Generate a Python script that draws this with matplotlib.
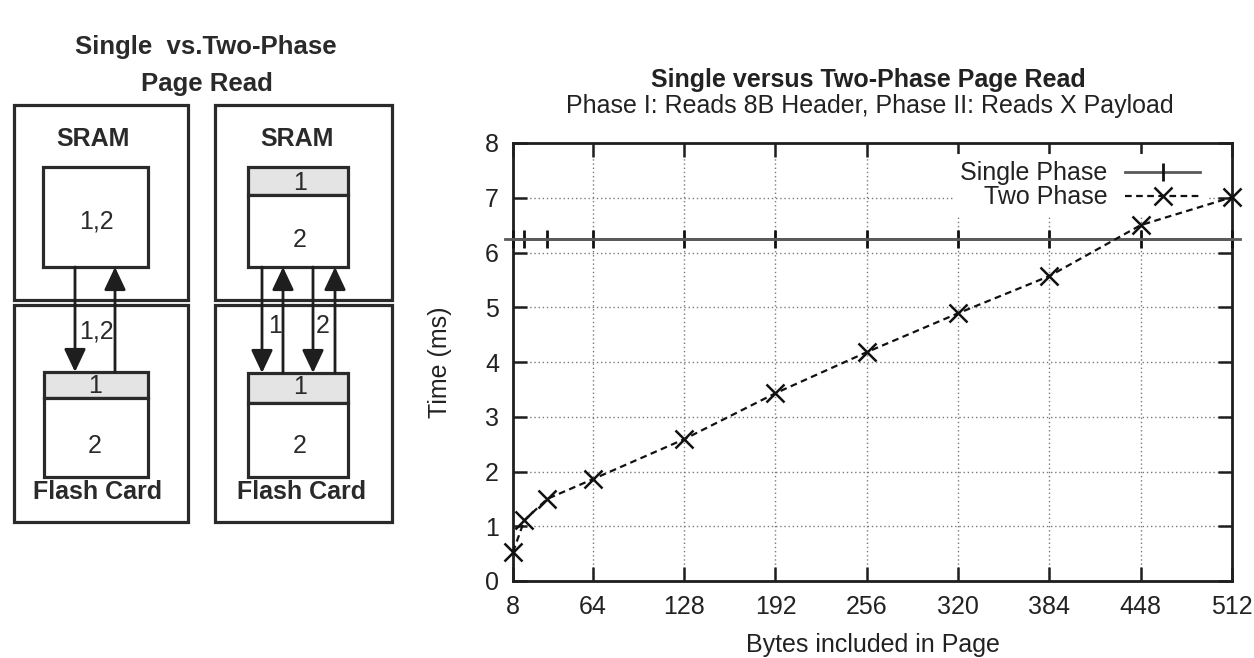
import matplotlib
matplotlib.use('Agg')
import matplotlib.pyplot as plt
from matplotlib.patches import Rectangle

plt.rcParams['font.family'] = ['Liberation Sans', 'DejaVu Sans']

# ---------------- data ----------------
bytes_x = [8, 16, 32, 64, 128, 192, 256, 320, 384, 448, 512]
single_ms = [6.25, 6.25, 6.25, 6.25, 6.25, 6.25, 6.25, 6.25, 6.25, 6.25, 6.25]
two_ms = [0.53, 1.11, 1.50, 1.86, 2.59, 3.43, 4.18, 4.89, 5.57, 6.50, 7.01]
x_ticks = [8, 64, 128, 192, 256, 320, 384, 448, 512]
y_ticks = [0, 1, 2, 3, 4, 5, 6, 7, 8]
series_labels = ['Single Phase', 'Two Phase']
chart_title = 'Single versus Two-Phase Page Read'
chart_subtitle = 'Phase I: Reads 8B Header, Phase II: Reads X Payload'
x_label = 'Bytes included in Page'
y_label = 'Time (ms)'

W, H = 1254, 658
fig = plt.figure(figsize=(W / 100, H / 100), dpi=100)
fig.patch.set_facecolor('white')

# ---------------- diagram (pixel coordinates) ----------------
ad = fig.add_axes([0, 0, 1, 1], zorder=0)
ad.set_xlim(0, W)
ad.set_ylim(H, 0)
ad.axis('off')

edge = '#2a2a2a'
tcol = '#2a2a2a'
blw = 2.3


def rect(x0, y0, x1, y1, fc='none', lw=blw):
    ad.add_patch(Rectangle((x0, y0), x1 - x0, y1 - y0, fc=fc, ec=edge, lw=lw))


def arrow(x, y_from, y_to):
    ad.annotate('', xy=(x, y_to), xytext=(x, y_from),
                arrowprops=dict(arrowstyle='-|>,head_length=0.7,head_width=0.33',
                                lw=2.0, color='#1e1e1e', shrinkA=0, shrinkB=0,
                                mutation_scale=20))


def txt(x, y, s, bold=False, size=18):
    ad.text(x, y, s, ha='center', va='baseline', fontsize=size,
            fontweight='bold' if bold else 'normal', color=tcol)


txt(206, 54, 'Single  vs.Two-Phase', bold=True, size=18.5)
txt(207, 91, 'Page Read', bold=True, size=18.5)

for (x0, x1) in [(14, 188), (215, 392)]:
    rect(x0, 105, x1, 300)
    rect(x0, 305, x1, 522)

txt(93, 146, 'SRAM', bold=True)
txt(297, 146, 'SRAM', bold=True)

# left SRAM block
rect(43, 167, 148, 267, fc='white')
txt(96, 229, '1,2')
# right SRAM block
rect(248, 167, 348, 195, fc='#e4e4e4')
rect(248, 195, 348, 267, fc='white')
txt(300, 190, '1')
txt(300, 247, '2')

# flash blocks
rect(44, 372, 148, 398, fc='#e4e4e4')
rect(44, 398, 148, 477, fc='white')
txt(95, 393, '1')
txt(95, 453, '2')
rect(248, 373, 348, 403, fc='#e4e4e4')
rect(248, 403, 348, 477, fc='white')
txt(300, 394, '1')
txt(300, 453, '2')

txt(98, 499, 'Flash Card', bold=True)
txt(302, 499, 'Flash Card', bold=True)

# arrows
arrow(75, 267, 372)
arrow(115, 372, 267)
arrow(262, 267, 373)
arrow(283, 373, 267)
arrow(313, 267, 373)
arrow(335, 373, 267)
txt(96, 339, '1,2')
txt(275, 333, '1')
txt(323, 333, '2')

# ---------------- chart ----------------
L, R, T, B = 513, 1232, 143, 581
ax = fig.add_axes([L / W, (H - B) / H, (R - L) / W, (B - T) / H], zorder=1)
ax.set_xlim(8, 512)
ax.set_ylim(0, 8)
ax.set_axisbelow(True)
ax.grid(True, color='#7a7a7a', linestyle=(0, (1, 2)), lw=1.0)
for sp in ax.spines.values():
    sp.set_linewidth(2.0)
    sp.set_color('#1e1e1e')
ax.set_xticks(x_ticks)
ax.set_xticklabels([str(v) for v in x_ticks])
ax.set_yticks(y_ticks)
ax.set_yticklabels([str(v) for v in y_ticks])
ax.tick_params(direction='in', length=10, width=1.8, top=True, right=True,
               labelsize=18, pad=10, color='#1e1e1e', labelcolor='#222222')

ax.plot(bytes_x, single_ms, color='#5a5a5a', lw=2.0, marker='|', ms=13,
        mew=2.0, mec='#111111', clip_on=False, label=series_labels[0], zorder=3)
ax.axhline(single_ms[0], xmin=-0.011, xmax=1.011, color='#5a5a5a', lw=2.0,
           clip_on=False, zorder=3)
ax.plot(bytes_x, two_ms, color='#111111', ls=(0, (3, 2)), lw=1.6, marker='x',
        ms=13, mew=1.8, clip_on=False, label=series_labels[1], zorder=4)

leg = ax.legend(loc='upper right', bbox_to_anchor=(0.966, 0.975),
                markerfirst=False, frameon=True, fancybox=False,
                edgecolor='none', facecolor='white', framealpha=1,
                fontsize=18, handlelength=3, handletextpad=0.7,
                labelspacing=0, borderpad=0.3, borderaxespad=0)
leg.set_zorder(2.5)
for t in leg.get_texts():
    t.set_color('#222222')

ax.set_xlabel(x_label, fontsize=18, color='#222222')
ax.set_ylabel(y_label, fontsize=18, color='#222222')
ax.xaxis.set_label_coords(0.5, (B - 633) / (B - T))
ax.yaxis.set_label_coords((452 - L) / (R - L), 0.5)

fig.text(868 / W, 1 - 87 / H, chart_title, ha='center', va='baseline',
         fontsize=18, fontweight='bold', color='#222222')
fig.text(870 / W, 1 - 113 / H, chart_subtitle, ha='center', va='baseline',
         fontsize=18, color='#222222')

fig.savefig('out.png', dpi=100, facecolor='white')
